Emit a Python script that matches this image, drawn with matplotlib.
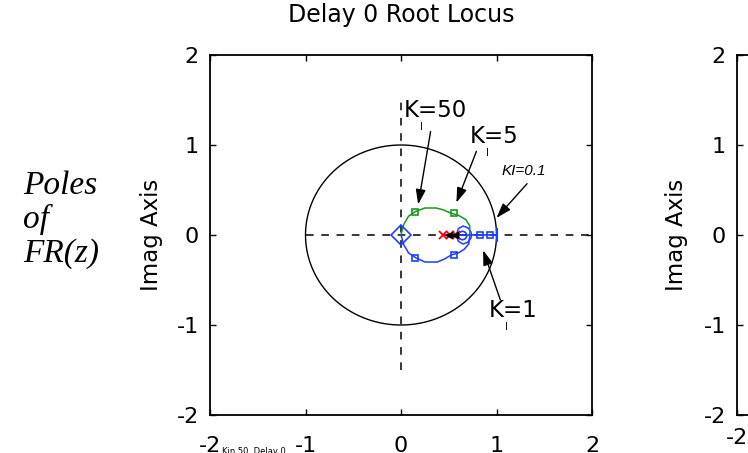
"""Redraw of the delay 0 root locus panel (poles of FR(z)).

Root locus branches, pole / zero markers and gain annotations are drawn in
data coordinates on a [-2, 2] x [-2, 2] plane. The neighbouring panel on the
right is only partially visible, like in the source figure.
"""

import matplotlib.pyplot as plt
import numpy as np

# figure size in pixels at dpi 100
FIG_W, FIG_H = 748, 453

# axis ticks
TICKS = [-2, -1, 0, 1, 2]

# upper (green) branch of the locus, from real axis back to the origin
green_re = [0.72, 0.72, 0.68, 0.60, 0.53, 0.44, 0.37, 0.25, 0.15, 0.08, 0.03, 0.0]
green_im = [0.0, 0.10, 0.17, 0.22, 0.24, 0.28, 0.30, 0.30, 0.26, 0.21, 0.12, 0.0]
# lower (blue) branch of the locus
blue_re = [0.72, 0.71, 0.66, 0.60, 0.53, 0.45, 0.38, 0.25, 0.15, 0.08, 0.03, 0.0]
blue_im = [0.0, -0.10, -0.16, -0.20, -0.22, -0.27, -0.30, -0.30, -0.25, -0.20, -0.11, 0.0]
# small loop around the zeros
loop_re = [0.58, 0.60, 0.65, 0.70, 0.73, 0.74, 0.73, 0.70, 0.65, 0.60, 0.58]
loop_im = [0.0, 0.07, 0.10, 0.08, 0.04, 0.0, -0.04, -0.08, -0.10, -0.07, 0.0]
# branch along the real axis out to the unit circle
axis_re = [0.44, 1.0]

# gain markers on the branches
green_sq_re = [0.15, 0.55]
green_sq_im = [0.26, 0.24]
blue_sq_re = [0.15, 0.55, 0.83, 0.93]
blue_sq_im = [-0.25, -0.22, 0.0, 0.0]
# open-loop poles, zeros and end points
pole_re = [0.44, 0.51, 0.58]
zero_re = [0.64]
start_re = [0.0]
end_re = [1.0]
dir_re = [0.50, 0.57]

# annotations: label, label position, arrow tail, arrow head
k_labels = ["K=50", "K=5", "K=1"]
k_text_xy = [(0.03, 1.38), (0.72, 1.10), (0.92, -0.84)]
k_tail_xy = [(0.31, 1.15), (0.79, 0.93), (1.04, -0.72)]
k_head_xy = [(0.18, 0.34), (0.58, 0.36), (0.86, -0.17)]
ki_label = "KI=0.1"
ki_text_xy = (1.29, 0.71)
ki_tail_xy = (1.32, 0.57)
ki_head_xy = (1.0, 0.19)

plt.rcParams["axes.unicode_minus"] = False


def style_axes(ax, xpad, ypad):
    """MATLAB-like box axes with inward ticks on all four sides."""
    ax.set_xlim(-2, 2)
    ax.set_ylim(-2, 2)
    ax.set_xticks(TICKS)
    ax.set_yticks(TICKS)
    ax.tick_params(direction="in", length=4, width=1, top=True, right=True,
                   labelsize=16)
    ax.tick_params(axis="x", pad=xpad)
    ax.tick_params(axis="y", pad=ypad)
    for sp in ax.spines.values():
        sp.set_linewidth(1.3)
    ax.set_ylabel("Imag Axis", fontsize=16.5)


def main():
    fig = plt.figure(figsize=(FIG_W / 100, FIG_H / 100), dpi=100)

    # axes placement (pixels -> figure fraction)
    ax = fig.add_axes([210 / FIG_W, 38 / FIG_H, 382 / FIG_W, 360 / FIG_H])
    ax2 = fig.add_axes([737 / FIG_W, 38 / FIG_H, 382 / FIG_W, 360 / FIG_H])
    style_axes(ax, 15, 8)
    style_axes(ax2, 9, 8)
    ax.yaxis.set_label_coords(-47 / 382, 0.5)
    ax2.yaxis.set_label_coords(-49 / 382, 0.5)
    ax.set_title("Delay 0 Root Locus", fontsize=17, pad=24)

    # unit circle and dashed axes
    th = np.linspace(0, 2 * np.pi, 400)
    ax.plot(np.cos(th), np.sin(th), color="k", lw=1)
    ax.plot([-1, 2], [0, 0], color="k", lw=1.1, ls=(0, (5, 5)))
    ax.plot([0, 0], [-1.5, 1.5], color="k", lw=1.1, ls=(0, (5, 5)))

    # locus branches
    blue = "#1f3dff"
    green = "#1a9a1a"
    ax.plot(axis_re, [0, 0], color=blue, lw=1.2)
    ax.plot(loop_re, loop_im, color=blue, lw=1.1)
    ax.plot(green_re, green_im, color=green, lw=1.1)
    ax.plot(blue_re, blue_im, color=blue, lw=1.1)

    # markers
    ax.plot(green_sq_re, green_sq_im, ls="none", marker="s", ms=5,
            mfc="none", mec=green, mew=1.2)
    ax.plot(blue_sq_re, blue_sq_im, ls="none", marker="s", ms=5,
            mfc="none", mec=blue, mew=1.2)
    ax.plot(start_re, [0] * len(start_re), ls="none", marker="D", ms=10,
            mfc="none", mec=blue, mew=1.2)
    ax.plot(end_re, [0] * len(end_re), ls="none", marker="|", ms=10,
            mec=blue, mew=1.5)
    ax.plot(zero_re, [0] * len(zero_re), ls="none", marker="o", ms=6,
            mfc="none", mec=blue, mew=1.2)
    ax.plot(pole_re, [0] * len(pole_re), ls="none", marker="x", ms=6,
            mec="red", mew=1.3)
    ax.plot(dir_re, [0] * len(dir_re), ls="none", marker="<", ms=4,
            color="k")

    # gain annotations with arrows
    arrow = dict(arrowstyle="-|>,head_length=0.9,head_width=0.3",
                 color="k", lw=1, shrinkA=0, shrinkB=0)
    for lab, txy, tail, head in zip(k_labels, k_text_xy, k_tail_xy, k_head_xy):
        ax.annotate("", xy=head, xytext=tail, arrowprops=arrow)
        ax.text(txy[0], txy[1], lab, fontsize=16.5, ha="left", va="center")
        # subscript I sitting under the K
        ax.annotate("I", xy=(txy[0], txy[1]), xytext=(11.5, -12),
                    textcoords="offset points", fontsize=7, ha="left",
                    va="center")
    ax.annotate("", xy=ki_head_xy, xytext=ki_tail_xy, arrowprops=arrow)
    ax.text(ki_text_xy[0], ki_text_xy[1], ki_label, fontsize=11,
            style="italic", family="Liberation Sans", ha="center",
            va="center")

    # side caption
    fig.text(23 / FIG_W, 1 - 220 / FIG_H, "Poles\nof\nFR(z)",
             family="Liberation Serif", style="italic", fontsize=24,
             ha="left", va="center", linespacing=1.12)
    # tiny footnote, mostly cut off at the bottom edge
    fig.text(222 / FIG_W, -3 / FIG_H, "Kin 50  Delay 0", fontsize=6,
             ha="left", va="bottom")

    fig.savefig("out.png", dpi=100)


if __name__ == "__main__":
    main()
